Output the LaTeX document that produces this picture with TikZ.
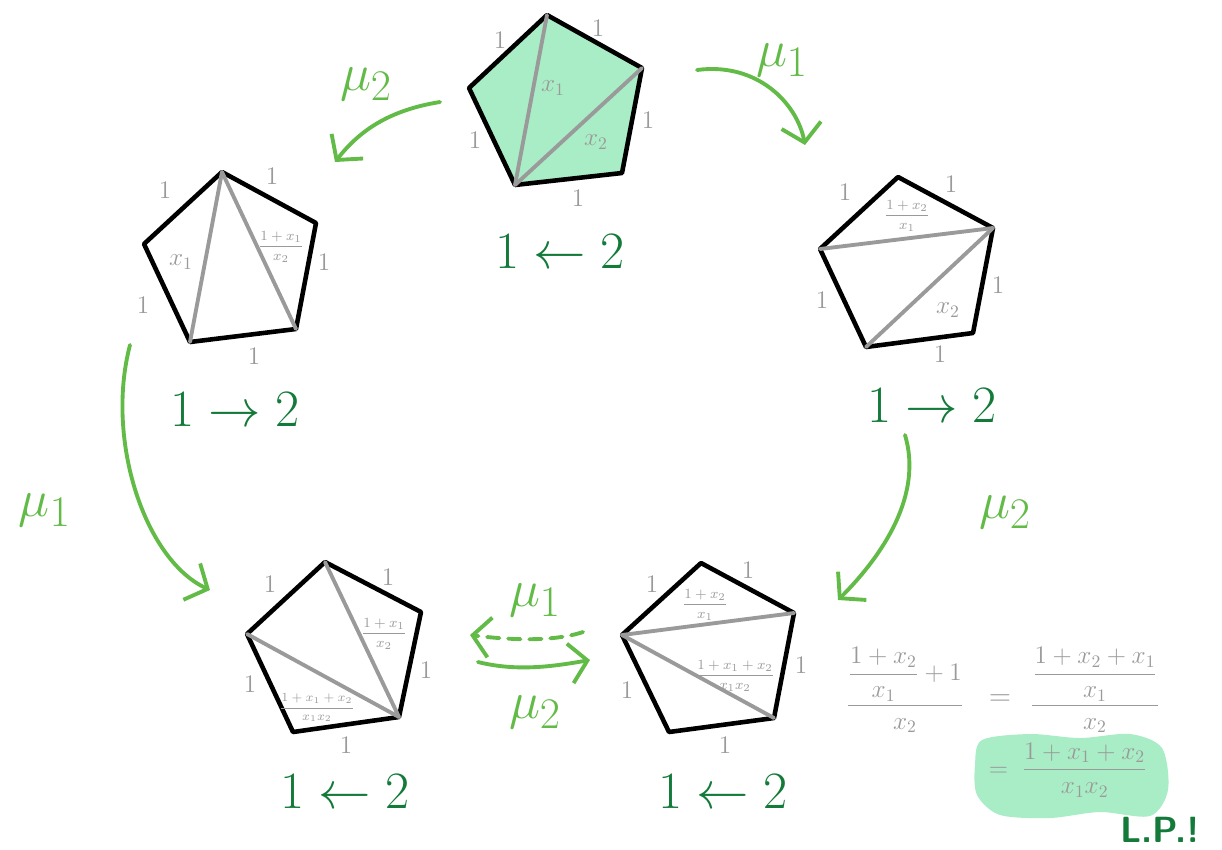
\documentclass[tikz,border=0pt]{standalone}
\usepackage{amsmath}
\usepackage{graphicx}
\usepackage{tikz}
\usetikzlibrary{
  arrows.meta,
  calc
}
\definecolor{mintfill}{HTML}{A9EDC6}
\definecolor{mugreen}{HTML}{62BB47}
\definecolor{dirgreen}{HTML}{137A3A}
\definecolor{labgray}{HTML}{9A9A9A}
\newcommand{\bigdir}[1]{\scalebox{1.2}{$#1$}}
\newcommand{\bigmu}[1]{\scalebox{1.2}{$\mu_{#1}$}}

\begin{document}
\begin{tikzpicture}[x=0.02cm, y=-0.02cm,
    edgeline/.style={draw=black, line width=2.6pt, line join=round},
    diagline/.style={draw=labgray, line width=2.2pt, line cap=round},
    one/.style={labgray, font=\Large},
    varlab/.style={labgray, font=\Large},
    fraclab/.style={labgray, font=\footnotesize, inner sep=1pt},
    dirlab/.style={dirgreen, inner sep=0pt, font=\Huge},
    mulab/.style={mugreen, font=\Huge},
    muarrow/.style={mugreen, line width=2.2pt, line cap=round,
      -{Straight Barb[length=3.5mm,width=8mm]}}]
    \useasboundingbox (0,0) rectangle (1222,849);

    % Pentagono de cima (semente, preenchido)
    \coordinate (t1) at (547,15);
    \coordinate (t2) at (642,68);
    \coordinate (t3) at (622,173);
    \coordinate (t4) at (515,185);
    \coordinate (t5) at (469,88);
    \filldraw[fill=mintfill, edgeline] (t1) -- (t2) -- (t3) -- (t4) -- (t5) -- cycle;
    \draw[diagline] (t4) -- (t1);
    \draw[diagline] (t4) -- (t2);
    \node[varlab] (tx1) at (553,88) {$x_1$};
    \node[varlab] (tx2) at (596,142) {$x_2$};
    \node[one] (t12) at (598,28) {1};
    \node[one] (t23) at (648,120) {1};
    \node[one] (t34) at (578,198) {1};
    \node[one] (t45) at (475,140) {1};
    \node[one] (t51) at (500,40) {1};
    \node[dirlab] (tdir) at (560,252) {\bigdir{1 \leftarrow 2}};

    % Pentagono da esquerda
    \coordinate (l1) at (222,172);
    \coordinate (l2) at (316,223);
    \coordinate (l3) at (296,329);
    \coordinate (l4) at (190,342);
    \coordinate (l5) at (144,244);
    \draw[edgeline] (l1) -- (l2) -- (l3) -- (l4) -- (l5) -- cycle;
    \draw[diagline] (l1) -- (l4);
    \draw[diagline] (l1) -- (l3);
    \node[varlab] (lx1) at (181,262) {$x_1$};
    \node[fraclab] (lfr) at (281,247) {$\dfrac{1+x_1}{x_2}$};
    \node[one] (l12) at (272,176) {1};
    \node[one] (l23) at (324,262) {1};
    \node[one] (l34) at (254,356) {1};
    \node[one] (l45) at (143,305) {1};
    \node[one] (l51) at (165,190) {1};
    \node[dirlab] (ldir) at (235,410) {\bigdir{1 \rightarrow 2}};

    % Pentagono da direita
    \coordinate (r1) at (898,177);
    \coordinate (r2) at (993,228);
    \coordinate (r3) at (973,333);
    \coordinate (r4) at (866,347);
    \coordinate (r5) at (820,249);
    \draw[edgeline] (r1) -- (r2) -- (r3) -- (r4) -- (r5) -- cycle;
    \draw[diagline] (r2) -- (r5);
    \draw[diagline] (r2) -- (r4);
    \node[fraclab] (rfr) at (907,216) {$\dfrac{1+x_2}{x_1}$};
    \node[varlab] (rx2) at (948,310) {$x_2$};
    \node[one] (r12) at (951,184) {1};
    \node[one] (r23) at (998,285) {1};
    \node[one] (r34) at (940,354) {1};
    \node[one] (r45) at (822,300) {1};
    \node[one] (r51) at (845,192) {1};
    \node[dirlab] (rdir) at (932,406) {\bigdir{1 \rightarrow 2}};

    % Pentagono de baixo, esquerda
    \coordinate (a1) at (325,562);
    \coordinate (a2) at (421,612);
    \coordinate (a3) at (399,717);
    \coordinate (a4) at (293,732);
    \coordinate (a5) at (247,634);
    \draw[edgeline] (a1) -- (a2) -- (a3) -- (a4) -- (a5) -- cycle;
    \draw[diagline] (a3) -- (a1);
    \draw[diagline] (a3) -- (a5);
    \node[fraclab] (afr1) at (384,634) {$\dfrac{1+x_1}{x_2}$};
    \node[fraclab, font=\scriptsize] (afr2) at (317,708) {$\dfrac{1+x_1+x_2}{x_1x_2}$};
    \node[one] (a12) at (388,577) {1};
    \node[one] (a23) at (426,670) {1};
    \node[one] (a34) at (346,745) {1};
    \node[one] (a45) at (250,684) {1};
    \node[one] (a51) at (270,584) {1};
    \node[dirlab] (adir) at (345,792) {\bigdir{1 \leftarrow 2}};

    % Pentagono de baixo, direita
    \coordinate (b1) at (701,563);
    \coordinate (b2) at (794,613);
    \coordinate (b3) at (774,718);
    \coordinate (b4) at (669,732);
    \coordinate (b5) at (622,635);
    \draw[edgeline] (b1) -- (b2) -- (b3) -- (b4) -- (b5) -- cycle;
    \draw[diagline] (b5) -- (b2);
    \draw[diagline] (b5) -- (b3);
    \node[fraclab] (bfr1) at (705,605) {$\dfrac{1+x_2}{x_1}$};
    \node[fraclab] (bfr2) at (735,676) {$\dfrac{1+x_1+x_2}{x_1x_2}$};
    \node[one] (b12) at (748,570) {1};
    \node[one] (b23) at (801,665) {1};
    \node[one] (b34) at (725,745) {1};
    \node[one] (b45) at (627,690) {1};
    \node[one] (b51) at (652,584) {1};
    \node[dirlab] (bdir) at (723,792) {\bigdir{1 \leftarrow 2}};

    % Mutacoes
    \coordinate (m2a) at (440,102);
    \coordinate (m2b) at (335,162);
    \draw[muarrow] (m2a) .. controls +(-50,8) and +(25,-32) .. (m2b);
    \node[mulab] (m2top) at (366,84) {\bigmu{2}};

    \coordinate (m1a) at (697,70);
    \coordinate (m1b) at (805,145);
    \draw[muarrow] (m1a) .. controls +(60,-8) and +(-8,-42) .. (m1b);
    \node[mulab] (m1top) at (782,60) {\bigmu{1}};

    \coordinate (m1c) at (130,345);
    \coordinate (m1d) at (210,590);
    \draw[muarrow] (m1c) .. controls +(-25,95) and +(-65,-30) .. (m1d);
    \node[mulab] (m1left) at (45,510) {\bigmu{1}};

    \coordinate (m2c) at (905,435);
    \coordinate (m2d) at (838,600);
    \draw[muarrow] (m2c) .. controls +(18,60) and +(45,-45) .. (m2d);
    \node[mulab] (m2right) at (1005,512) {\bigmu{2}};

    \coordinate (m1e) at (583,632);
    \coordinate (m1f) at (470,635);
    \draw[muarrow, dash pattern=on 7pt off 5pt] (m1e) .. controls +(-30,10) and +(40,5) .. (m1f);
    \node[mulab] (m1mid) at (535,600) {\bigmu{1}};

    \coordinate (m2e) at (478,662);
    \coordinate (m2f) at (590,660);
    \draw[muarrow] (m2e) .. controls +(40,10) and +(-35,6) .. (m2f);
    \node[mulab] (m2mid) at (535,712) {\bigmu{2}};

    % Conta
    \fill[mintfill] plot[smooth cycle] coordinates {(982,740) (1030,734) (1080,738)
      (1130,734) (1162,748) (1168,790) (1150,816) (1100,812) (1050,818) (1000,815)
      (977,795) (975,765)};
    \node[labgray, font=\Large] (lhs) at (905,690) {$\dfrac{\dfrac{1+x_2}{x_1}+1}{x_2}$};
    \node[labgray, font=\LARGE] (eq1) at (1000,700) {$=$};
    \node[labgray, font=\Large] (rhs) at (1095,690) {$\dfrac{\dfrac{1+x_2+x_1}{x_1}}{x_2}$};
    \node[labgray, font=\Large] (res) at (1068,770) {$=\;\dfrac{1+x_1+x_2}{x_1x_2}$};
    \node[dirgreen, font=\huge\bfseries\sffamily] (lp) at (1160,830) {L.P.!};
  \end{tikzpicture}
\end{document}
